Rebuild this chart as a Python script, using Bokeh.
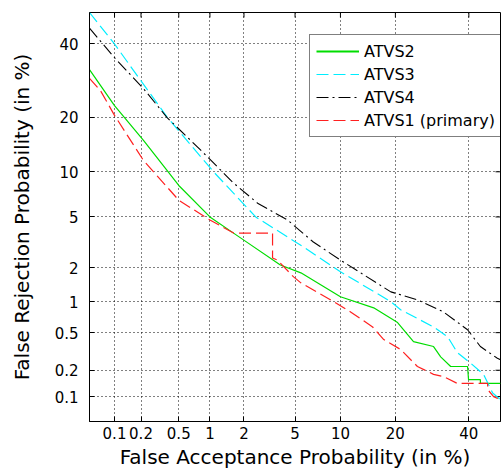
import math
from statistics import NormalDist
from bokeh.plotting import figure
from bokeh.models import Range1d, FixedTicker, Legend, LegendItem
from bokeh.embed import file_html
from bokeh.resources import INLINE

# ---- data (percent) ----
tick_values = [0.1, 0.2, 0.5, 1, 2, 5, 10, 20, 40]
tick_labels = ["0.1", "0.2", "0.5", "1", "2", "5", "10", "20", "40"]
axis_limits = [0.05, 50]

# ATVS2 (green, solid)
fa_atvs2 = [0.05, 0.1, 0.213, 0.5, 1.0, 1.87, 3.9, 5.5, 10, 15.5, 20.5, 24.3, 29.6, 31.6, 34.5, 39.6, 39.9, 43.6, 43.6, 50]
fr_atvs2 = [32.3, 22.7, 15.2, 8.2, 5.0, 3.49, 2.11, 1.81, 1.11, 0.875, 0.63, 0.405, 0.36, 0.28, 0.22, 0.22, 0.157, 0.157, 0.142, 0.142]

# ATVS3 (cyan, dashed)
fa_atvs3 = [0.05, 0.1, 0.38, 1.08, 2.5, 5.74, 10, 19, 21.2, 29.6, 33.6, 36.5, 40.5, 44.6, 47.5, 50]
fr_atvs3 = [50, 40, 20, 10, 5, 2.96, 1.85, 1.0, 0.84, 0.57, 0.455, 0.31, 0.24, 0.18, 0.11, 0.092]

# ATVS4 (black, dash-dot)
fa_atvs4 = [0.05, 0.1, 0.213, 0.38, 0.82, 1.63, 2.59, 4.41, 6.7, 10, 19, 25.3, 32.4, 39.6, 43.6, 49, 50]
fr_atvs4 = [45, 35.8, 27, 19.9, 13.4, 8.5, 6.25, 4.75, 3.24, 2.32, 1.23, 1.04, 0.80, 0.535, 0.36, 0.27, 0.26]

# ATVS1 primary (red, dashed)
fa_atvs1 = [0.05, 0.068, 0.1, 0.213, 0.5, 1.0, 1.63, 3.4, 3.4, 3.71, 4.88, 5.5, 9.1, 11.5, 15.3, 17.5, 21.2, 25.3, 29.6, 32.4, 36.5, 45.9, 45.9, 47.8, 49.1, 50]
fr_atvs1 = [29.8, 26.5, 20.4, 11.7, 6.55, 4.75, 3.8, 3.8, 2.41, 2.32, 1.67, 1.48, 1.0, 0.80, 0.57, 0.425, 0.335, 0.22, 0.18, 0.17, 0.142, 0.142, 0.121, 0.1, 0.095, 0.09]

nd = NormalDist()


def probit(pcts):
    return [nd.inv_cdf(v / 100.0) for v in pcts]


FONT = "DejaVu Sans"
GREEN = "#00dd00"
tick_pos = probit(tick_values)
overrides = {t: lab for t, lab in zip(tick_pos, tick_labels)}
lo, hi = probit(axis_limits)

p = figure(width=503, height=471, output_backend="svg", toolbar_location=None,
           x_range=Range1d(lo, hi), y_range=Range1d(lo, hi),
           min_border_left=89, min_border_right=3, min_border_top=12, min_border_bottom=49)
p.background_fill_color = "white"
p.border_fill_color = "white"
p.outline_line_color = "black"
p.outline_line_width = 1

for ax in [p.xaxis[0], p.yaxis[0]]:
    ax.ticker = FixedTicker(ticks=tick_pos)
    ax.major_label_overrides = overrides
    ax.major_tick_in = 5
    ax.major_tick_out = 0
    ax.minor_tick_line_color = None
    ax.axis_line_color = "black"
    ax.major_tick_line_color = "black"
    ax.major_label_text_font = FONT
    ax.major_label_text_font_size = "15px"
    ax.major_label_text_color = "black"
    ax.axis_label_text_font = FONT
    ax.axis_label_text_font_size = "20px"
    ax.axis_label_text_font_style = "normal"
    ax.axis_label_text_color = "black"

p.xaxis[0].axis_label = "False Acceptance Probability (in %)"
p.yaxis[0].axis_label = "False Rejection Probability (in %)"
p.xaxis[0].major_label_standoff = 5
p.xaxis[0].axis_label_standoff = 3
p.yaxis[0].major_label_standoff = 11
p.yaxis[0].axis_label_standoff = 18

for g in [p.xgrid[0], p.ygrid[0]]:
    g.ticker = FixedTicker(ticks=tick_pos)
    g.grid_line_color = "black"
    g.grid_line_dash = "1 3"
    g.grid_line_width = 1

# inward tick marks on the top and right frame edges
n = len(tick_pos)
p.ray(x=tick_pos, y=[hi] * n, length=5, length_units="screen", angle=-math.pi / 2,
      line_color="black", line_width=1)
p.ray(x=[hi] * n, y=tick_pos, length=5, length_units="screen", angle=math.pi,
      line_color="black", line_width=1)

r2 = p.line(probit(fa_atvs2), probit(fr_atvs2), line_color=GREEN, line_width=1.2)
r3 = p.line(probit(fa_atvs3), probit(fr_atvs3), line_color="#00eeff", line_width=1.2, line_dash="12 5")
r4 = p.line(probit(fa_atvs4), probit(fr_atvs4), line_color="black", line_width=1.1, line_dash="12 4 2 4")
r1 = p.line(probit(fa_atvs1), probit(fr_atvs1), line_color="#ff2020", line_width=1.2, line_dash="12 5")
# legend swatch for the solid green series
r2_key = p.line([float("nan")], [float("nan")], line_color=GREEN, line_width=2)

legend = Legend(items=[LegendItem(label="ATVS2", renderers=[r2_key]),
                       LegendItem(label="ATVS3", renderers=[r3]),
                       LegendItem(label="ATVS4", renderers=[r4]),
                       LegendItem(label="ATVS1 (primary)", renderers=[r1])],
                location=(220, 284))
legend.label_text_font = FONT
legend.label_text_font_size = "16px"
legend.label_text_color = "black"
legend.label_height = 20
legend.glyph_height = 20
legend.glyph_width = 43
legend.label_standoff = 5
legend.spacing = 3
legend.padding = 6
legend.margin = 0
legend.border_line_color = "black"
legend.border_line_width = 1
legend.background_fill_alpha = 1
p.add_layout(legend, "center")

open("out.html", "w").write(file_html(p, INLINE))
